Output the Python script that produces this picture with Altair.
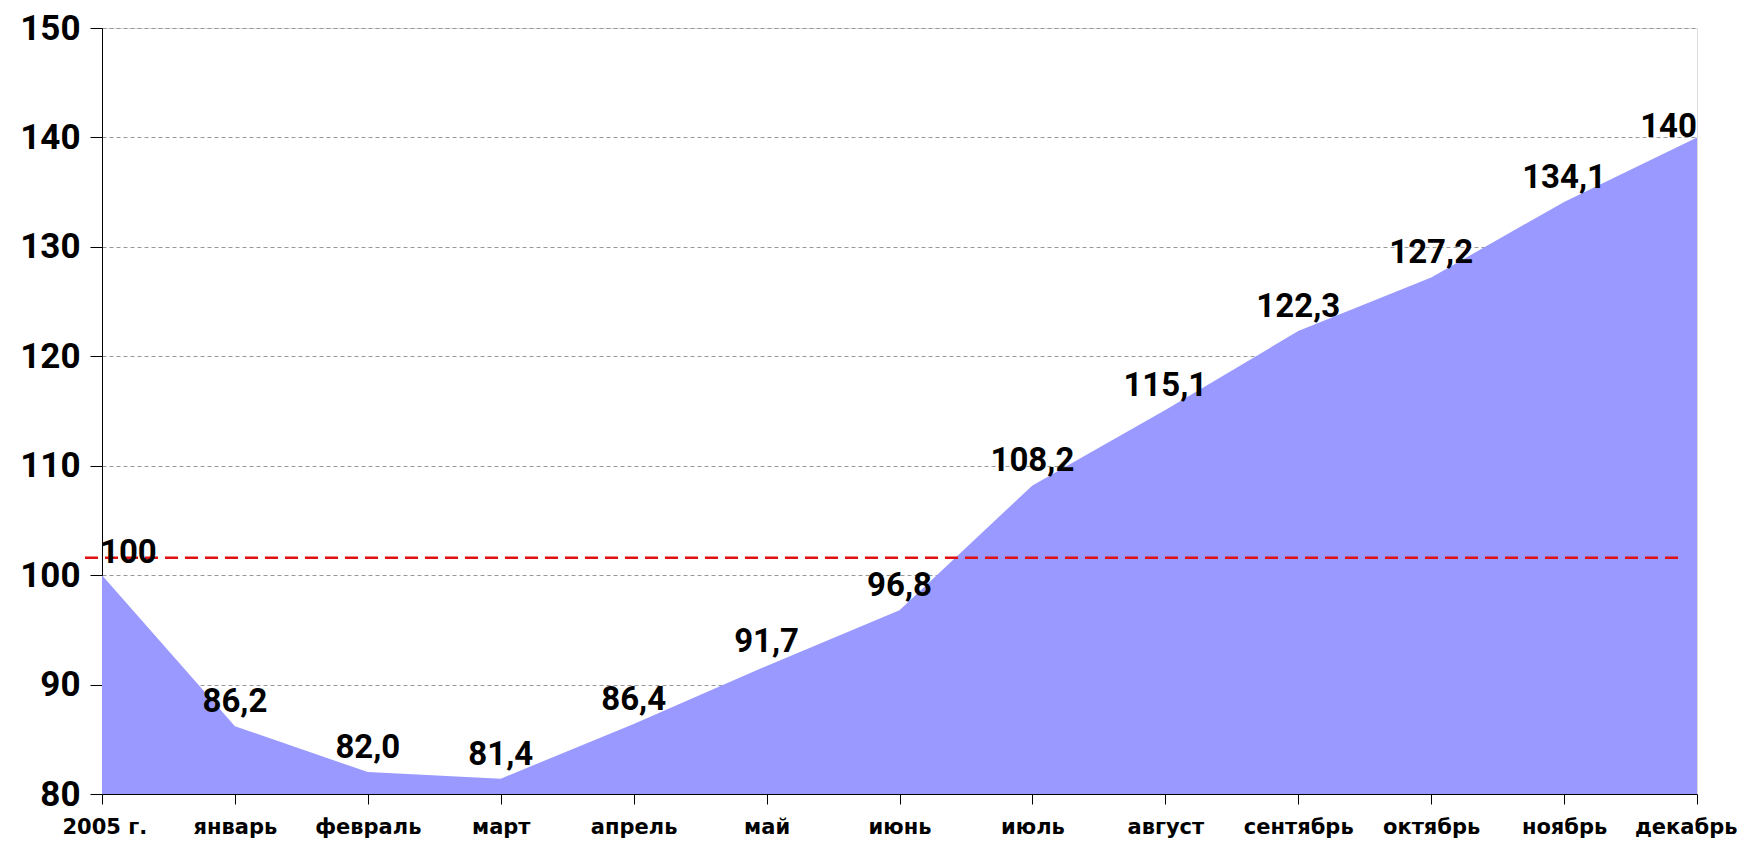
import altair as alt
import pandas as pd

months = ["2005 г.", "январь", "февраль", "март", "апрель", "май", "июнь",
          "июль", "август", "сентябрь", "октябрь", "ноябрь", "декабрь"]
values = [100, 86.2, 82.0, 81.4, 86.4, 91.7, 96.8, 108.2, 115.1, 122.3, 127.2, 134.1, 140]
labels = ["100", "86,2", "82,0", "81,4", "86,4", "91,7", "96,8", "108,2", "115,1",
          "122,3", "127,2", "134,1", "140"]
ref_level = [101.6]

df = pd.DataFrame({"month": months, "value": values, "label": labels})
df["pos"] = ["first"] + ["mid"] * (len(months) - 2) + ["last"]

W, H = 1595, 766
NUMFONT = "Roboto"
XFONT = "DejaVu Sans"

x = alt.X("month:O", sort=months, scale=alt.Scale(type="point", padding=0),
          axis=alt.Axis(title=None, labelAngle=0, labelFont=XFONT, labelFontWeight="bold",
                        labelFontSize=21, labelColor="black", labelPadding=12,
                        labelFlush=True, labelFlushOffset=40,
                        domainColor="black", tickColor="black", tickSize=10,
                        grid=False))
y = alt.Y("value:Q", scale=alt.Scale(domain=[80, 150], zero=False, nice=False),
          axis=alt.Axis(title=None, values=[80, 90, 100, 110, 120, 130, 140, 150],
                        labelFont=NUMFONT, labelFontWeight="bold", labelFontSize=35,
                        labelColor="black", labelPadding=10, domainColor="black",
                        tickColor="black", tickSize=12, grid=True, gridDash=[4, 3],
                        gridColor="#999999", gridWidth=1))

base = alt.Chart(df)

area = base.mark_area(color="#9999FF", opacity=1).encode(
    x=x, y=y, y2=alt.Y2(datum=80)
)

txt_kw = dict(font=NUMFONT, fontWeight="bold", fontSize=33, color="black", baseline="middle")
mid_txt = base.transform_filter(alt.datum.pos == "mid").mark_text(
    align="center", dy=-24, **txt_kw).encode(x=x, y=y, text="label:N")
first_txt = base.transform_filter(alt.datum.pos == "first").mark_text(
    align="left", dy=-22, dx=-2, **txt_kw).encode(x=x, y=y, text="label:N")
last_txt = base.transform_filter(alt.datum.pos == "last").mark_text(
    align="right", dy=-10, **txt_kw).encode(x=x, y=y, text="label:N")

ref = alt.Chart(pd.DataFrame({"level": ref_level})).mark_rule(
    color="#E01010", strokeWidth=2.5, strokeDash=[13, 7]
).encode(y=alt.Y("level:Q", scale=alt.Scale(domain=[80, 150], zero=False, nice=False)),
         x=alt.value(-17), x2=alt.value(W - 14))

chart = alt.layer(area, ref, mid_txt, first_txt, last_txt).properties(
    width=W, height=H,
    autosize=alt.AutoSizeParams(type="none"),
    padding={"left": 94, "top": 20, "right": 40, "bottom": 50},
).configure_view(stroke=None).configure(background="white")

chart.save("out.html", embed_options={"renderer": "svg", "actions": False})
